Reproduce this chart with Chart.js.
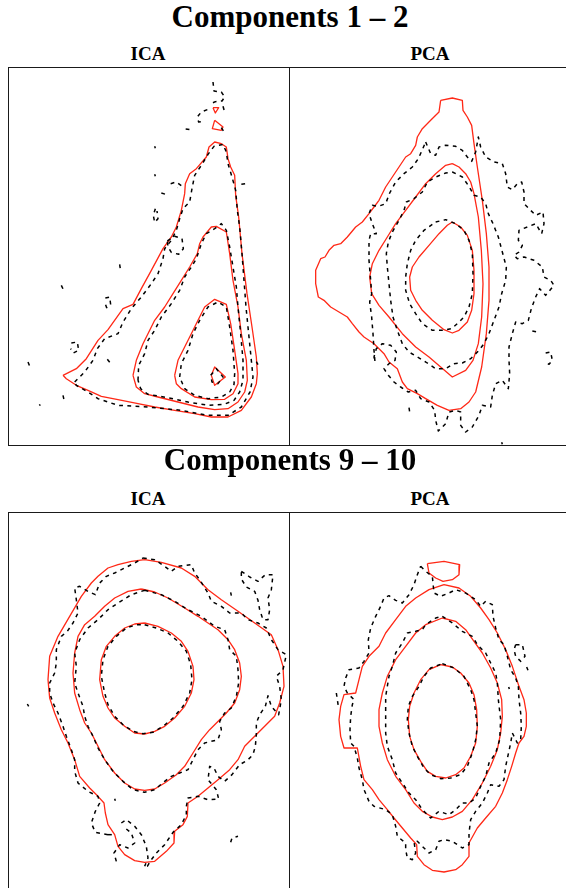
<!DOCTYPE html>
<html>
<head>
<meta charset="utf-8">
<script src="https://cdn.jsdelivr.net/npm/chart.js@4.4.1/dist/chart.umd.min.js"></script>
<style>
  html, body { margin: 0; padding: 0; background: #fff; width: 566px; height: 888px; overflow: hidden; }
  .wrap { position: relative; width: 566px; height: 888px; overflow: hidden; }
  .title { position: absolute; left: 0; width: 580px; text-align: center; font-family: "Liberation Serif", "DejaVu Serif", serif; font-weight: bold; color: #000; white-space: nowrap; }
  .main { font-size: 31px; line-height: 31px; }
  .sub { font-size: 19px; line-height: 19px; width: 282px; }
  .frame { position: absolute; box-sizing: border-box; border: 1px solid #1a1a1a; width: 282px; }
  canvas { position: absolute; }
</style>
</head>
<body>
<div class="wrap">
  <div class="title main" style="top:1px">Components 1 – 2</div>
  <div class="title sub" style="top:44px; left:7px">ICA</div>
  <div class="title sub" style="top:44px; left:289px">PCA</div>
  <div class="frame" style="left:8px; top:67px; height:379px"></div>
  <div class="frame" style="left:289px; top:67px; height:379px"></div>
  <canvas id="ica12" width="281" height="378" style="left:8px; top:67px"></canvas>
  <canvas id="pca12" width="281" height="378" style="left:289px; top:67px"></canvas>

  <div class="title main" style="top:444px">Components 9 – 10</div>
  <div class="title sub" style="top:489px; left:7px">ICA</div>
  <div class="title sub" style="top:489px; left:289px">PCA</div>
  <div class="frame" style="left:8px; top:512px; height:400px"></div>
  <div class="frame" style="left:289px; top:512px; height:400px"></div>
  <canvas id="ica910" width="281" height="378" style="left:8px; top:513px"></canvas>
  <canvas id="pca910" width="281" height="378" style="left:289px; top:513px"></canvas>
</div>
<script>
// Density contours of component scores (score units x100), flat [x, y, x, y, ...] lists.
// Red solid: estimated density; black dashed: empirical density.

// ---- Components 1-2, ICA ----
const ica12Red = [
  [165,-925, 205,-905, 235,-875, 270,-820, 300,-788, 345,-725, 375,-712, 400,-665, 430,-610, 465,-545, 490,-510, 505,-480, 520,-430, 530,-380, 532,-350, 545,-320, 565,-305, 595,-270, 603,-240, 620,-225, 640,-230, 655,-240, 660,-275, 668,-300, 680,-325, 683,-385, 692,-450, 702,-560, 717,-680, 732,-780, 745,-870, 748,-920, 745,-950, 730,-990, 700,-1030, 660,-1050, 610,-1050, 560,-1040, 500,-1030, 440,-1020, 390,-1010, 330,-998, 280,-988, 240,-970, 205,-955, 175,-935, 165,-925],
  [375,-925, 385,-880, 405,-830, 440,-760, 470,-720, 495,-680, 520,-640, 545,-600, 568,-560, 575,-530, 585,-510, 610,-480, 625,-478, 655,-495, 665,-560, 675,-640, 690,-720, 700,-800, 715,-880, 718,-940, 710,-975, 690,-1005, 660,-1025, 620,-1028, 570,-1020, 510,-1005, 450,-990, 410,-980, 385,-960, 375,-925],
  [500,-925, 510,-880, 530,-840, 550,-800, 570,-760, 590,-720, 620,-697, 655,-712, 668,-770, 680,-850, 690,-920, 690,-950, 675,-980, 650,-997, 610,-998, 560,-990, 520,-965, 505,-950, 500,-925],
  [610,-925, 620,-900, 652,-930, 620,-955, 610,-925],
  [615,-122, 632,-122, 622,-138, 615,-122],
  [620,-160, 645,-180, 640,-190, 613,-185, 620,-160]
];
const ica12Dash = [
  [200,-945, 230,-915, 255,-880, 268,-845, 290,-815, 330,-800, 345,-765, 370,-725, 400,-690, 430,-650, 450,-620, 465,-575, 470,-545, 490,-520, 505,-490, 515,-455, 525,-425, 545,-405, 552,-365, 560,-325, 580,-295, 600,-262, 618,-238, 645,-232, 655,-255, 660,-290, 672,-330, 683,-370, 688,-430, 695,-480, 702,-560, 708,-640, 714,-720, 722,-800, 730,-880, 735,-930, 726,-975, 700,-1020, 660,-1045, 600,-1045, 520,-1030, 420,-1020, 330,-1015, 270,-995, 240,-975, 205,-955, 200,-945],
  [390,-940, 392,-895, 410,-860, 420,-820, 440,-790, 460,-750, 490,-710, 515,-670, 530,-630, 550,-600, 565,-575, 580,-530, 595,-500, 620,-485, 640,-470, 655,-490, 665,-540, 675,-600, 685,-660, 690,-720, 698,-800, 705,-880, 705,-940, 695,-975, 678,-1000, 648,-1012, 600,-1015, 540,-1005, 480,-992, 420,-982, 398,-965, 390,-940],
  [515,-930, 520,-890, 540,-850, 555,-800, 575,-760, 600,-720, 630,-705, 655,-720, 665,-780, 675,-850, 680,-920, 678,-952, 665,-975, 640,-990, 600,-995, 560,-985, 530,-965, 515,-930],
  [608,-925, 625,-905, 645,-930, 630,-950, 612,-945, 608,-925]
];
const ica12Bits = [
  [615,-45, 618,-72, 640,-75, 650,-90, 642,-102, 622,-104, 605,-112],
  [645,-118, 650,-135],
  [598,-128, 580,-135, 568,-150, 572,-165, 585,-163],
  [533,-186, 546,-188],
  [640,-182, 650,-198],
  [440,-238, 442,-244],
  [440,-322, 442,-328],
  [488,-350, 505,-345, 520,-356, 508,-362],
  [460,-378, 476,-383],
  [442,-425, 436,-445, 440,-466, 450,-455, 447,-432],
  [478,-522, 500,-508, 522,-515, 526,-545, 512,-562, 490,-556, 480,-540, 478,-522],
  [335,-592, 337,-606],
  [160,-655, 166,-668],
  [292,-693, 305,-690, 308,-713, 296,-722, 290,-706],
  [190,-828, 208,-825, 212,-850, 196,-858, 188,-845],
  [298,-877, 305,-886],
  [60,-885, 66,-900, 62,-906],
  [165,-985, 168,-998],
  [94,-1012, 97,-1016],
  [700,-352, 716,-350],
  [745,-884, 750,-893]
];

// ---- Components 1-2, PCA ----
const pca12Red = [
  [455,-100, 490,-93, 520,-100, 522,-130, 535,-150, 548,-175, 555,-230, 565,-300, 580,-400, 592,-500, 600,-600, 600,-700, 592,-800, 578,-900, 560,-975, 540,-1005, 515,-1025, 480,-1030, 445,-1015, 410,-995, 385,-980, 355,-965, 340,-945, 325,-905, 300,-885, 285,-860, 255,-830, 225,-810, 210,-795, 190,-770, 175,-750, 155,-738, 125,-720, 105,-700, 88,-690, 80,-650, 80,-610, 95,-575, 108,-570, 120,-550, 135,-535, 155,-530, 175,-510, 200,-480, 220,-465, 240,-440, 255,-420, 270,-400, 290,-360, 310,-330, 330,-300, 350,-270, 365,-260, 380,-235, 385,-210, 400,-185, 425,-160, 450,-135, 455,-100],
  [490,-290, 510,-300, 530,-320, 545,-345, 555,-380, 568,-450, 577,-550, 582,-650, 578,-750, 568,-830, 552,-880, 530,-910, 490,-930, 455,-900, 420,-870, 380,-840, 340,-800, 300,-750, 270,-715, 248,-680, 242,-630, 250,-590, 270,-550, 295,-510, 320,-470, 350,-430, 380,-390, 410,-350, 440,-320, 470,-295, 490,-290],
  [490,-465, 515,-480, 535,-505, 550,-550, 555,-610, 555,-680, 548,-730, 535,-765, 510,-790, 490,-798, 465,-788, 430,-760, 400,-730, 380,-700, 365,-670, 362,-630, 370,-600, 390,-570, 420,-535, 450,-500, 475,-475, 490,-465]
];
const pca12Dash = [
  [410,-225, 425,-260, 440,-265, 450,-240, 470,-235, 500,-238, 520,-250, 535,-270, 548,-283, 560,-255, 568,-210, 575,-240, 590,-270, 615,-285, 640,-290, 650,-320, 655,-360, 670,-368, 685,-350, 698,-345, 705,-375, 705,-410, 725,-430, 740,-445, 762,-435, 765,-470, 758,-500, 740,-470, 715,-480, 690,-490, 688,-520, 700,-535, 690,-555, 675,-565, 685,-575, 705,-570, 735,-580, 760,-600, 765,-630, 785,-640, 795,-655, 770,-685, 752,-665, 740,-690, 727,-725, 718,-760, 700,-770, 680,-765, 670,-800, 660,-840, 660,-880, 662,-920, 658,-965, 640,-940, 620,-950, 610,-985, 605,-1020, 580,-1015, 570,-1045, 550,-1080, 530,-1095, 515,-1075, 515,-1035, 500,-1030, 480,-1035, 470,-1070, 448,-1092, 440,-1060, 437,-1030, 420,-1005, 395,-995, 380,-970, 358,-975, 335,-960, 315,-945, 298,-925, 285,-905, 300,-890, 318,-880, 322,-855, 305,-835, 280,-830, 262,-845, 255,-870, 258,-885, 255,-850, 252,-800, 248,-750, 242,-705, 248,-680, 245,-640, 240,-580, 240,-520, 245,-500, 262,-500, 250,-470, 240,-440, 250,-415, 268,-418, 290,-410, 302,-378, 320,-345, 345,-320, 370,-300, 388,-275, 400,-248, 410,-225],
  [490,-315, 520,-330, 540,-358, 555,-385, 575,-390, 590,-410, 598,-440, 612,-470, 628,-510, 640,-555, 652,-600, 650,-640, 638,-680, 630,-720, 615,-760, 600,-800, 585,-830, 570,-850, 545,-875, 520,-888, 495,-890, 470,-905, 440,-905, 410,-885, 385,-870, 360,-855, 340,-830, 325,-790, 312,-750, 305,-700, 300,-650, 295,-600, 292,-560, 298,-525, 310,-495, 330,-460, 345,-430, 352,-405, 375,-395, 400,-375, 415,-345, 440,-330, 470,-318, 490,-315],
  [440,-465, 470,-458, 500,-470, 525,-490, 540,-520, 550,-560, 552,-620, 550,-680, 540,-720, 525,-750, 505,-770, 488,-785, 460,-790, 430,-790, 400,-770, 380,-740, 362,-710, 350,-670, 350,-630, 355,-590, 365,-550, 380,-520, 405,-490, 440,-465]
];
const pca12Bits = [
  [770,-858, 785,-855, 790,-880, 780,-892, 770,-885],
  [730,-792, 745,-795],
  [360,-1022, 362,-1035],
  [638,-1126, 640,-1132]
];

// ---- Components 9-10, ICA ----
const ica910Red = [
  [410,-140, 460,-148, 520,-165, 560,-190, 600,-230, 640,-260, 690,-295, 740,-330, 790,-365, 810,-410, 825,-460, 828,-520, 815,-570, 800,-610, 770,-640, 740,-670, 710,-700, 690,-740, 665,-770, 630,-800, 600,-825, 570,-850, 540,-870, 538,-910, 525,-935, 500,-955, 498,-990, 475,-1015, 440,-1045, 410,-1048, 380,-1043, 350,-1025, 330,-1000, 320,-965, 300,-935, 292,-900, 288,-870, 270,-850, 245,-825, 215,-790, 200,-740, 180,-690, 160,-650, 140,-600, 125,-555, 120,-500, 125,-430, 150,-370, 185,-310, 220,-250, 250,-210, 270,-190, 300,-165, 330,-155, 370,-145, 410,-140],
  [400,-228, 440,-237, 480,-255, 530,-285, 570,-310, 600,-330, 630,-350, 660,-380, 680,-410, 695,-450, 700,-490, 695,-530, 680,-570, 655,-600, 635,-620, 605,-650, 580,-680, 555,-720, 530,-760, 505,-785, 470,-810, 440,-828, 410,-832, 380,-828, 350,-810, 320,-780, 290,-740, 270,-700, 250,-660, 230,-630, 215,-590, 200,-540, 195,-480, 200,-420, 210,-370, 230,-335, 260,-310, 290,-280, 320,-255, 360,-235, 400,-228],
  [410,-330, 450,-340, 490,-360, 520,-385, 540,-415, 555,-460, 558,-500, 550,-540, 530,-580, 500,-615, 470,-640, 440,-655, 410,-663, 380,-660, 350,-640, 320,-615, 300,-585, 285,-550, 275,-500, 280,-440, 295,-400, 320,-370, 350,-345, 380,-333, 410,-330]
];
const ica910Dash = [
  [405,-135, 440,-140, 470,-160, 490,-175, 510,-160, 550,-155, 560,-180, 575,-200, 600,-240, 610,-265, 640,-280, 665,-300, 700,-300, 720,-320, 750,-330, 775,-345, 790,-380, 810,-410, 835,-425, 825,-470, 805,-490, 815,-520, 820,-560, 812,-605, 790,-580, 780,-548, 772,-580, 755,-605, 745,-630, 745,-665, 742,-700, 735,-725, 718,-742, 695,-755, 672,-785, 650,-805, 630,-790, 618,-765, 605,-760, 600,-800, 625,-830, 632,-858, 600,-860, 570,-850, 540,-855, 535,-880, 535,-905, 520,-935, 495,-958, 470,-995, 445,-1020, 430,-1040, 418,-1060, 405,-1062],
  [300,-965, 262,-958, 250,-930, 262,-895, 275,-870, 270,-850, 240,-835, 210,-810, 200,-775, 200,-740, 190,-710, 175,-670, 165,-640, 150,-600, 135,-570, 125,-540, 125,-510, 140,-480, 145,-450, 145,-410, 160,-370, 178,-355, 195,-330, 210,-300, 205,-260, 200,-225, 215,-220, 240,-235, 262,-245, 275,-210, 295,-190, 320,-180, 350,-165, 380,-150, 405,-135],
  [410,-232, 460,-245, 500,-265, 540,-290, 580,-310, 620,-340, 650,-350, 660,-380, 665,-410, 685,-430, 690,-470, 692,-510, 685,-550, 670,-585, 650,-600, 635,-625, 640,-650, 630,-680, 590,-690, 570,-710, 555,-740, 540,-770, 515,-780, 490,-790, 470,-805, 440,-830, 410,-838, 375,-830, 345,-805, 315,-775, 290,-740, 270,-705, 255,-670, 240,-640, 230,-610, 225,-580, 210,-540, 200,-510, 205,-460, 200,-420, 215,-380, 240,-345, 270,-320, 300,-290, 330,-270, 370,-245, 410,-232],
  [410,-335, 445,-345, 480,-360, 510,-385, 535,-415, 548,-455, 552,-500, 545,-540, 525,-580, 495,-615, 465,-640, 435,-658, 405,-662, 375,-655, 345,-635, 320,-610, 300,-575, 290,-540, 280,-490, 285,-440, 300,-400, 325,-370, 355,-345, 385,-335, 410,-335]
];
const ica910Bits = [
  [700,-175, 725,-192, 750,-205, 772,-185, 795,-185, 790,-230, 780,-255, 785,-290, 780,-320, 765,-320, 755,-290, 750,-262, 740,-235, 715,-222, 700,-198, 700,-175],
  [325,-1045, 318,-1020, 335,-995, 360,-1005, 380,-990, 370,-960, 345,-940],
  [340,-930, 355,-920, 380,-940, 400,-965, 415,-1000, 420,-1035, 410,-1060],
  [300,-965, 320,-965],
  [668,-238, 670,-248],
  [58,-573, 62,-580],
  [320,-857, 322,-863],
  [668,-988, 672,-975, 690,-970]
];

// ---- Components 9-10, PCA ----
const pca910Red = [
  [415,-152, 465,-145, 512,-155, 510,-185, 490,-200, 462,-205, 440,-195, 420,-180, 415,-152],
  [465,-215, 510,-225, 545,-250, 575,-285, 600,-320, 625,-360, 650,-410, 670,-460, 690,-520, 705,-560, 712,-600, 712,-640, 705,-670, 690,-690, 680,-720, 668,-760, 655,-800, 640,-840, 620,-880, 590,-915, 565,-945, 540,-990, 540,-1030, 520,-1055, 500,-1070, 465,-1077, 430,-1072, 405,-1055, 385,-1030, 383,-995, 365,-975, 340,-945, 315,-915, 295,-890, 270,-860, 250,-830, 225,-800, 215,-760, 205,-705, 165,-705, 155,-670, 150,-620, 155,-580, 165,-545, 200,-540, 210,-500, 220,-460, 240,-430, 270,-400, 290,-360, 320,-320, 350,-280, 380,-255, 420,-230, 465,-215],
  [460,-315, 500,-325, 530,-350, 555,-385, 580,-420, 605,-465, 625,-510, 638,-560, 640,-610, 635,-660, 625,-710, 605,-760, 580,-810, 550,-860, 520,-895, 490,-912, 460,-920, 430,-912, 400,-895, 375,-870, 350,-830, 320,-790, 295,-740, 280,-690, 270,-640, 270,-590, 280,-540, 295,-490, 320,-440, 350,-400, 380,-360, 410,-335, 460,-315],
  [455,-455, 490,-462, 515,-480, 540,-510, 555,-545, 563,-590, 565,-640, 560,-690, 545,-730, 525,-765, 500,-785, 470,-795, 440,-790, 415,-775, 395,-745, 375,-710, 362,-670, 358,-620, 362,-580, 375,-540, 395,-500, 420,-470, 455,-455]
];
const pca910Dash = [
  [395,-160, 410,-175, 430,-190, 435,-240, 455,-250, 480,-240, 500,-230, 530,-240, 560,-260, 575,-280, 590,-265, 610,-275, 612,-310, 620,-345, 630,-380, 645,-395, 655,-430, 665,-470, 680,-495, 688,-520, 690,-560, 695,-600, 697,-640, 695,-680, 685,-690, 670,-660, 665,-690, 650,-760, 645,-800, 630,-820, 605,-815, 595,-840, 580,-870, 560,-895, 545,-920, 540,-960, 540,-995, 520,-1005, 490,-985, 465,-980, 450,-985, 440,-1010, 420,-1020, 400,-1000, 385,-985, 375,-985, 380,-1020, 370,-1040, 355,-1035, 350,-1010, 350,-990, 325,-970, 320,-940, 310,-905, 290,-890, 255,-880, 240,-865, 225,-830, 220,-800, 210,-765, 205,-735, 195,-700, 185,-690, 183,-650, 185,-610, 190,-575, 195,-560, 175,-540, 165,-520, 170,-495, 180,-470, 210,-465, 225,-445, 240,-420, 238,-380, 245,-345, 260,-310, 275,-280, 285,-255, 300,-248, 320,-262, 340,-270, 360,-245, 375,-215, 385,-185, 395,-160],
  [460,-310, 490,-330, 520,-355, 550,-370, 565,-395, 590,-420, 605,-450, 620,-480, 625,-510, 628,-560, 635,-620, 632,-680, 620,-720, 600,-750, 590,-790, 575,-820, 560,-855, 540,-870, 520,-870, 500,-890, 480,-905, 450,-895, 425,-915, 400,-890, 380,-860, 360,-840, 340,-810, 320,-780, 310,-740, 295,-700, 290,-660, 290,-600, 290,-550, 300,-490, 310,-460, 320,-420, 340,-390, 355,-360, 380,-355, 400,-350, 410,-335, 440,-315, 460,-310],
  [460,-452, 495,-465, 525,-490, 545,-530, 555,-560, 560,-600, 565,-640, 560,-680, 550,-720, 535,-760, 515,-785, 485,-795, 455,-797, 425,-785, 405,-765, 385,-730, 370,-700, 360,-660, 355,-620, 358,-580, 370,-550, 390,-520, 405,-490, 425,-465, 460,-452]
];
const pca910Bits = [
  [142,-540, 148,-580],
  [680,-395, 700,-395, 708,-430, 695,-445, 680,-430, 675,-410, 680,-395],
  [713,-462, 717,-472],
  [659,-522, 661,-528]
];

// Horizontal range (score x100) and vertical range for every panel
const xRange = [0, 843];
const yRange = [-1134, 0];

const RED = 'rgb(255, 40, 22)';
const BLACK = '#000';

function toPoints(flat) {
  const out = [];
  for (let i = 0; i < flat.length; i += 2) out.push({ x: flat[i], y: flat[i + 1] });
  return out;
}

function lineSet(flat, color, dashed) {
  return {
    data: toPoints(flat),
    showLine: true,
    borderColor: color,
    borderWidth: dashed ? 1.5 : 1.3,
    borderDash: dashed ? [3.8, 4.4] : [],
    pointRadius: 0,
    pointHoverRadius: 0,
    tension: 0,
    fill: false,
    borderCapStyle: 'butt',
    borderJoinStyle: 'round'
  };
}

function drawPanel(id, reds, dashes, bits) {
  const datasets = [];
  dashes.forEach(c => datasets.push(lineSet(c, BLACK, true)));
  bits.forEach(c => datasets.push(lineSet(c, BLACK, true)));
  reds.forEach(c => datasets.push(lineSet(c, RED, false)));
  new Chart(document.getElementById(id), {
    type: 'scatter',
    data: { datasets },
    options: {
      responsive: false,
      animation: false,
      events: [],
      layout: { padding: 0 },
      plugins: { legend: { display: false }, tooltip: { enabled: false }, title: { display: false } },
      scales: {
        x: { type: 'linear', min: xRange[0], max: xRange[1], display: false },
        y: { type: 'linear', min: yRange[0], max: yRange[1], display: false }
      }
    }
  });
}

drawPanel('ica12', ica12Red, ica12Dash, ica12Bits);
drawPanel('pca12', pca12Red, pca12Dash, pca12Bits);
drawPanel('ica910', ica910Red, ica910Dash, ica910Bits);
drawPanel('pca910', pca910Red, pca910Dash, pca910Bits);
</script>
</body>
</html>
